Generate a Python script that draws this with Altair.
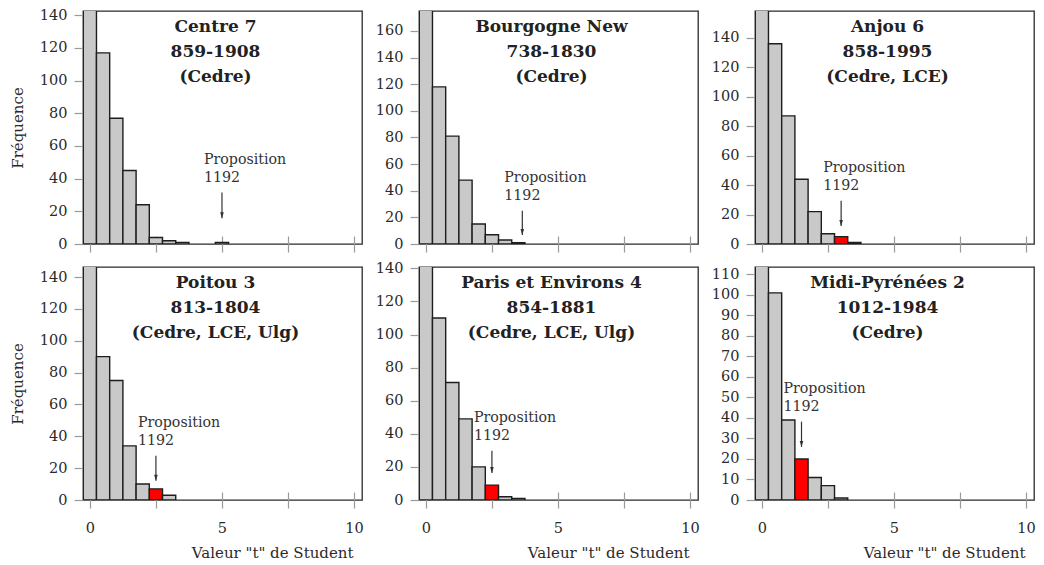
import altair as alt
import pandas as pd

# ---- data ----
centers = [0.0, 0.5, 1.0, 1.5, 2.0, 2.5, 3.0, 3.5, 4.0, 4.5, 5.0]
bin_width = 0.5

panel_names = ["Centre 7", "Bourgogne New", "Anjou 6",
               "Poitou 3", "Paris et Environs 4", "Midi-Pyrénées 2"]
panel_periods = ["859-1908", "738-1830", "858-1995",
                 "813-1804", "854-1881", "1012-1984"]
panel_sources = ["(Cedre)", "(Cedre)", "(Cedre, LCE)",
                 "(Cedre, LCE, Ulg)", "(Cedre, LCE, Ulg)", "(Cedre)"]

counts_centre = [190, 117, 77, 45, 24, 4, 2, 1, 0, 0, 1]
counts_bourgogne = [200, 118, 81, 48, 15, 7, 3, 1, 0, 0, 0]
counts_anjou = [190, 136, 87, 44, 22, 7, 5, 1, 0, 0, 0]
counts_poitou = [170, 90, 75, 34, 10, 7, 3, 0, 0, 0, 0]
counts_paris = [160, 110, 71, 49, 20, 9, 2, 1, 0, 0, 0]
counts_midi = [130, 101, 39, 20, 11, 7, 1, 0, 0, 0, 0]
all_counts = [counts_centre, counts_bourgogne, counts_anjou,
              counts_poitou, counts_paris, counts_midi]

# bin of the 1192 proposition that is drawn in red (None: too small to show)
highlight_bin = [None, None, 3.0, 2.5, 2.5, 1.5]
arrow_x = [5.0, 3.65, 3.0, 2.5, 2.5, 1.5]
arrow_tip = [15.7, 6.8, 12.3, 12.1, 16.3, 25.9]
arrow_tail = [31.5, 24.9, 29.3, 27.8, 29.7, 38.2]
annotation_label = "Proposition\n1192"

y_max = [142.6, 175, 158.2, 146.3, 140.8, 113.6]
y_step = [20, 20, 20, 20, 20, 10]
x_domain = [-0.26, 10.3]
x_ticks = [0, 2.5, 5, 7.5, 10]

FONT = "DejaVu Serif"
TXT = "#2a2a2a"
TICK = "#9a9a9a"
W, H = 279, 233

arrow_head = "M-0.6,-1L0.6,-1L0,1Z"


def panel(i, bottom_row, left_col):
    df = pd.DataFrame({"t": centers, "n": all_counts[i]})
    df = df[df["n"] > 0].copy()
    df["lo"] = df["t"] - bin_width / 2
    df["hi"] = df["t"] + bin_width / 2
    df["base"] = 0
    df["prop"] = df["t"] == highlight_bin[i] if highlight_bin[i] is not None else False

    ann = pd.DataFrame({"ax": [arrow_x[i]], "tip": [arrow_tip[i]],
                        "tail": [arrow_tail[i]], "label": [annotation_label]})

    xscale = alt.Scale(domain=x_domain, nice=False, zero=False)
    yscale = alt.Scale(domain=[0, y_max[i]], nice=False, zero=True)

    xaxis_kw = dict(values=x_ticks, tickSize=16, offset=-8, domain=False,
                    grid=False, tickColor=TICK, tickWidth=1.2,
                    labels=bottom_row,
                    labelExpr="datum.value % 5 == 0 ? datum.label : ''",
                    labelFont=FONT, labelFontSize=14.5, labelColor=TXT,
                    labelPadding=13,
                    title="Valeur \"t\" de Student" if bottom_row else "",
                    titleFont=FONT, titleFontSize=15, titleFontWeight="normal",
                    titleColor=TXT, titleX=270, titleY=65, titleAlign="right",
                    titleBaseline="alphabetic")
    yvals = list(range(0, int(y_max[i]) + 1, y_step[i]))
    yaxis_kw = dict(values=yvals, tickSize=9, domain=False, grid=False,
                    tickColor=TICK, tickWidth=1.2,
                    labelFont=FONT, labelFontSize=14.5, labelColor=TXT,
                    labelPadding=7,
                    title="Fréquence" if left_col else "",
                    titleFont=FONT, titleFontSize=15, titleFontWeight="normal",
                    titleColor=TXT, titleX=-66, titleAngle=-90,
                    titleBaseline="middle")

    def X(field):
        return alt.X(field, type="quantitative", scale=xscale,
                     axis=alt.Axis(**xaxis_kw))

    def Y(field):
        return alt.Y(field, type="quantitative", scale=yscale,
                     axis=alt.Axis(**yaxis_kw))

    bars = alt.Chart(df).mark_bar(clip=True, stroke="#1e1e1e",
                                  strokeWidth=1.4).encode(
        x=X("lo"), x2="hi", y=Y("n"), y2="base",
        color=alt.condition(alt.datum.prop, alt.value("#ff0000"),
                            alt.value("#c9c9c9")),
    )
    rule = alt.Chart(ann).mark_rule(color="#333333", strokeWidth=1.2).encode(
        x=X("ax"), y=Y("tail"), y2="tip")
    head = alt.Chart(ann).mark_point(shape=arrow_head, filled=True, size=36,
                                     color="#333333", opacity=1,
                                     yOffset=-3).encode(x=X("ax"), y=Y("tip"))
    text = alt.Chart(ann).mark_text(align="left", baseline="alphabetic",
                                    dx=-18, dy=-29, lineBreak="\n",
                                    lineHeight=18, font=FONT, fontSize=14.2,
                                    color="#333333").encode(
        x=X("ax"), y=Y("tail"), text="label")
    # panel heading, placed inside the plot frame like the reference
    heading = alt.Chart(ann).mark_text(
        text=[panel_names[i], panel_periods[i], panel_sources[i]],
        align="center", baseline="alphabetic", lineHeight=25.3,
        font=FONT, fontSize=17, fontWeight="bold", color="#222222",
    ).encode(x=alt.value(W / 2 - 7), y=alt.value(20.5))

    return alt.layer(bars, rule, head, text, heading).properties(
        width=W, height=H)


panels = [panel(0, False, True), panel(1, False, False), panel(2, False, False),
          panel(3, True, True), panel(4, True, False), panel(5, True, False)]

chart = alt.concat(*panels, columns=3,
                   spacing=alt.RowColnumber(row=23, column=57),
                   bounds="flush").configure_view(
    stroke="#2a2a2a", strokeWidth=1.3
).properties(padding={"left": 1, "top": -2, "right": 0, "bottom": 4})

chart.save("out.html", embed_options={"renderer": "svg", "actions": False})
